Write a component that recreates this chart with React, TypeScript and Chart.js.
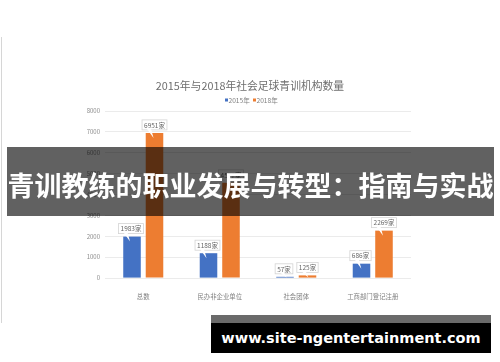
import React, { useEffect, useRef } from 'react';
import { Chart, registerables } from 'chart.js';

Chart.register(...registerables);

const categories = ['总数', '民办非企业单位', '社会团体', '工商部门登记注册'];
const series2015 = [1983, 1188, 57, 686];
const series2018 = [6951, 4557, 125, 2269];
const seriesNames = ['2015年', '2018年'];
const seriesColors = ['#4472C4', '#ED7D31'];
const unit = '家';
const chartTitle = '2015年与2018年社会足球青训机构数量';
const bannerText = '青训教练的职业发展与转型：指南与实战';
const watermarkText = 'www.site-ngentertainment.com';

const CJK = '"Noto Sans CJK SC", "Noto Sans", sans-serif';

const decorPlugin = {
  id: 'decor',
  afterDraw(chart: any) {
    const ctx = chart.ctx as CanvasRenderingContext2D;
    ctx.save();
    // title
    ctx.fillStyle = '#6e6e6e';
    ctx.font = `10.8px ${CJK}`;
    ctx.textAlign = 'center';
    ctx.textBaseline = 'middle';
    ctx.fillText(chartTitle, 250, 86);
    // legend
    ctx.font = `6.6px ${CJK}`;
    ctx.textAlign = 'left';
    const starts = [225, 253];
    chart.data.datasets.forEach((ds: any, i: number) => {
      const x0 = starts[i];
      ctx.fillStyle = ds.backgroundColor;
      ctx.fillRect(x0, 98.5, 3, 3);
      ctx.fillStyle = '#808080';
      ctx.fillText(ds.label, x0 + 3.5, 100);
    });
    ctx.restore();
  },
  afterDatasetsDraw(chart: any) {
    const ctx = chart.ctx as CanvasRenderingContext2D;
    const base = chart.scales.y.getPixelForValue(0);
    ctx.save();
    ctx.font = `6.5px ${CJK}`;
    ctx.textAlign = 'center';
    ctx.textBaseline = 'middle';
    chart.data.datasets.forEach((ds: any, i: number) => {
      const meta = chart.getDatasetMeta(i);
      meta.data.forEach((bar: any, j: number) => {
        const { x, y } = bar.getProps(['x', 'y'], true);
        const text = `${ds.data[j]}${unit}`;
        const tw = ctx.measureText(text).width;
        const bw = tw + 4;
        const bh = 10;
        const bx = x - bw / 2 - (i === 0 ? 1 : 0);
        const by = y - 3 - bh;
        ctx.fillStyle = '#ffffff';
        ctx.fillRect(bx, by, bw, bh);
        ctx.strokeStyle = '#d4d4d4';
        ctx.lineWidth = 0.8;
        ctx.strokeRect(bx, by, bw, bh);
        // callout tail
        const tipY = Math.min(y + 5, base - 0.5);
        ctx.beginPath();
        ctx.moveTo(bx + 5, by + bh - 1);
        ctx.lineTo(bx + 9, by + bh - 1);
        ctx.lineTo(bx + 11.5, tipY);
        ctx.closePath();
        ctx.fillStyle = '#ffffff';
        ctx.fill();
        ctx.fillStyle = '#666666';
        ctx.fillText(text, bx + bw / 2, by + bh / 2 + 0.3);
      });
    });
    ctx.restore();
  },
};

function BarChart() {
  const ref = useRef<HTMLCanvasElement | null>(null);
  useEffect(() => {
    if (!ref.current) return;
    const chart = new Chart(ref.current, {
      type: 'bar',
      data: {
        labels: categories,
        datasets: [
          { label: seriesNames[0], data: series2015, backgroundColor: seriesColors[0] },
          { label: seriesNames[1], data: series2018, backgroundColor: seriesColors[1] },
        ],
      },
      options: {
        responsive: false,
        animation: false,
        devicePixelRatio: 1,
        categoryPercentage: 0.588,
        barPercentage: 0.78,
        layout: { padding: { left: 0, top: 111, right: 89, bottom: 54 } },
        plugins: {
          legend: { display: false },
          title: { display: false },
          tooltip: { enabled: false },
        },
        scales: {
          x: {
            grid: { display: false },
            border: { display: false },
            ticks: {
              color: '#808080',
              font: { family: CJK, size: 6.4 },
              padding: 7,
              maxRotation: 0,
              autoSkip: false,
            },
            afterFit(scale: any) {
              scale.height = 30;
            },
          },
          y: {
            min: 0,
            max: 8000,
            grid: { color: '#e6e6e6', drawTicks: false, lineWidth: 0.8 },
            border: { display: false },
            ticks: {
              stepSize: 1000,
              color: '#8c8c8c',
              font: { family: CJK, size: 6 },
              padding: 5,
              callback: (v: any) => String(v),
            },
            afterFit(scale: any) {
              scale.width = 105;
            },
          },
        },
      },
      plugins: [decorPlugin],
    } as any);
    return () => chart.destroy();
  }, []);
  return <canvas ref={ref} width={500} height={362} style={{ position: 'absolute', left: 0, top: 0 }} />;
}

export default function App() {
  return (
    <div
      style={{
        position: 'absolute',
        left: 0,
        top: 0,
        width: 500,
        height: 362,
        background: '#ffffff',
        overflow: 'hidden',
      }}
    >
      <div style={{ position: 'absolute', left: 1, top: 37, width: 1, height: 286, background: '#d6d6d6' }} />
      <BarChart />
      <div
        style={{
          position: 'absolute',
          left: 7,
          top: 147,
          width: 487,
          height: 69,
          background: 'rgba(0,0,0,0.62)',
        }}
      >
        <div
          style={{
            position: 'absolute',
            left: 0,
            top: 23,
            width: 487,
            lineHeight: '30px',
            fontSize: 27,
            fontWeight: 700,
            fontFamily: CJK,
            color: '#ffffff',
            textAlign: 'center',
            whiteSpace: 'nowrap',
          }}
        >
          {bannerText}
        </div>
      </div>
      <div style={{ position: 'absolute', left: 211, top: 315, width: 280, height: 8, background: '#6a6a6a' }} />
      <div
        style={{
          position: 'absolute',
          left: 211,
          top: 323,
          width: 280,
          height: 30,
          background: '#000000',
          color: '#ffffff',
          fontFamily: '"DejaVu Sans", sans-serif',
          fontWeight: 700,
          fontSize: 14.5,
          lineHeight: '30px',
          textAlign: 'center',
          whiteSpace: 'nowrap',
        }}
      >
        {watermarkText}
      </div>
    </div>
  );
}
